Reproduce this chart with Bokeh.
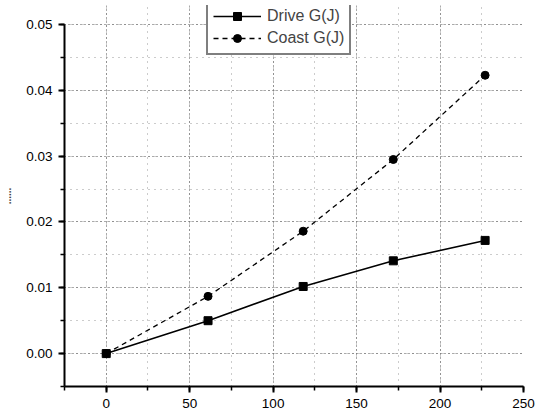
from bokeh.plotting import figure
from bokeh.models import Range1d, SingleIntervalTicker, NumeralTickFormatter, Legend, LegendItem
from bokeh.embed import file_html
from bokeh.resources import INLINE

x_vals = [0, 61, 118, 172, 227]
drive = [0.0, 0.0050, 0.0102, 0.0141, 0.0172]
coast = [0.0, 0.0087, 0.0186, 0.0295, 0.0423]
series_names = ["Drive G(J)", "Coast G(J)"]
y_label = "......"

FONT = "Liberation Sans"

p = figure(width=544, height=413, output_backend="svg", toolbar_location=None,
           x_range=Range1d(-25, 250), y_range=Range1d(-0.005, 0.0529),
           min_border_left=63, min_border_right=21, min_border_top=5, min_border_bottom=27)
p.outline_line_color = None
p.background_fill_color = "white"
p.border_fill_color = "white"

p.xaxis.ticker = SingleIntervalTicker(interval=50, num_minor_ticks=2)
p.yaxis.ticker = SingleIntervalTicker(interval=0.01, num_minor_ticks=2)
p.yaxis.formatter = NumeralTickFormatter(format="0.00")
p.yaxis.bounds = (-0.005, 0.05)

for ax in (p.xaxis[0], p.yaxis[0]):
    ax.axis_line_width = 2
    ax.axis_line_color = "black"
    ax.major_tick_line_width = 2
    ax.major_tick_out = 6
    ax.major_tick_in = 0
    ax.minor_tick_out = 4
    ax.minor_tick_in = 0
    ax.minor_tick_line_width = 1.5
    ax.major_label_text_font = FONT
    ax.major_label_text_font_size = "13.5px"
    ax.major_label_text_color = "black"
    ax.major_label_standoff = 6

p.yaxis.axis_label = y_label
p.yaxis.axis_label_text_font = FONT
p.yaxis.axis_label_text_font_size = "10px"
p.yaxis.axis_label_text_font_style = "bold"
p.yaxis.axis_label_standoff = 12

for g in (p.xgrid[0], p.ygrid[0]):
    g.grid_line_color = "#555555"
    g.grid_line_dash = "1 3"
    g.grid_line_width = 1
    g.minor_grid_line_color = "#999999"
    g.minor_grid_line_dash = "1 5"
    g.minor_grid_line_width = 1

l1 = p.line(x_vals, drive, line_color="black", line_width=1.6)
m1 = p.scatter(x_vals, drive, marker="square", size=8, fill_color="black", line_color="black")
l2 = p.line(x_vals, coast, line_color="black", line_width=1.3, line_dash="5 4")
m2 = p.scatter(x_vals, coast, marker="circle", size=8, fill_color="black", line_color="black")

legend = Legend(items=[LegendItem(label=series_names[0], renderers=[l1, m1]),
                       LegendItem(label=series_names[1], renderers=[l2, m2])],
                location=(142, 331))
legend.label_text_font = FONT
legend.label_text_font_size = "16px"
legend.border_line_color = "black"
legend.border_line_width = 2
legend.glyph_width = 48
legend.padding = 5
legend.spacing = 2
legend.margin = 0
legend.label_standoff = 6
legend.background_fill_alpha = 1
p.add_layout(legend, "center")

open("out.html", "w").write(file_html(p, INLINE))
